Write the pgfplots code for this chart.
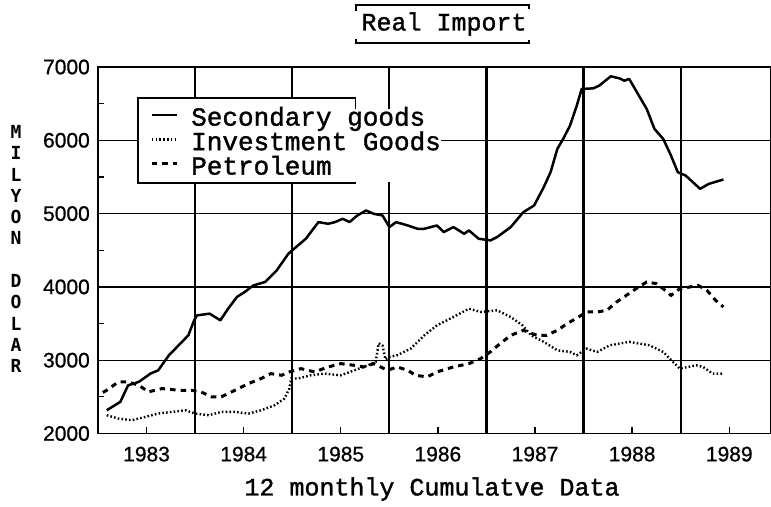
\documentclass[border=0pt]{standalone}
\usepackage{fontspec}
\setmainfont[FakeBold=1.4]{Liberation Mono}
\newfontfamily\tickfont[FakeBold=0.8]{Liberation Sans}
\newfontfamily\ylabfont{DejaVu Sans Mono}
\usepackage{pgfplots}
\pgfplotsset{compat=1.18}
\begin{document}
\begin{tikzpicture}[x=1pt,y=1pt]
\path[use as bounding box] (0,0) rectangle (771,506);
\begin{axis}[
  at={(98pt,72.5pt)}, anchor=south west,
  scale only axis, width=673pt, height=366.5pt,
  xmin=1983, xmax=1989.93, ymin=2000, ymax=7000,
  axis line style={line width=1.6pt},
  tick align=inside, tick pos=left,
  xtick={1983.5,1984.5,1985.5,1986.5,1987.5,1988.5,1989.5},
  xticklabels={1983,1984,1985,1986,1987,1988,1989},
  ytick={2000,3000,4000,5000,6000,7000},
  minor ytick={2500,3500,4500,5500,6500},
  major tick length=6pt, minor tick length=6pt,
  every tick/.style={black, line width=1.3pt},
  ymajorgrids, major grid style={black, line width=1.2pt},
  extra x ticks={1984,1985,1986,1987,1988,1989},
  extra x tick labels={},
  extra x tick style={grid=major, major grid style={black, line width=2.2pt}, major tick length=0pt},
  /pgf/number format/assume math mode=true,
  /pgf/number format/1000 sep={},
  yticklabel style={font=\tickfont\fontsize{21}{21}\selectfont, inner sep=0pt, xshift=-8pt},
  xticklabel style={font=\tickfont\fontsize{21}{21}\selectfont, inner sep=0pt, yshift=-13pt},
  legend style={at={(0.0773,0.887)}, anchor=north west, fill=white, draw=none, inner sep=0pt,
    font=\fontsize{26}{26}\selectfont, column sep=13pt, row sep=0pt,
    nodes={inner sep=0pt, text height=17pt, text depth=7.5pt}},
  legend cell align=left,
  legend image code/.code={\draw[#1] (0pt,6pt) -- (25pt,6pt);},
]
\addplot[black, line width=2.5pt, line join=round] coordinates {
(1983.09,2317) (1983.23,2432) (1983.31,2658) (1983.42,2704) (1983.54,2817) (1983.62,2862)
(1983.73,3067) (1983.83,3203) (1983.93,3339) (1983.99,3544) (1984.02,3612) (1984.15,3635)
(1984.26,3544) (1984.34,3703) (1984.43,3862) (1984.51,3930) (1984.60,4020) (1984.72,4067)
(1984.84,4225) (1984.96,4452) (1985.04,4544) (1985.14,4657) (1985.27,4884) (1985.37,4861)
(1985.44,4884) (1985.52,4929) (1985.59,4884) (1985.67,4974) (1985.76,5042) (1985.84,4997)
(1985.93,4974) (1986.00,4816) (1986.07,4884) (1986.19,4838) (1986.29,4793) (1986.36,4793)
(1986.49,4838) (1986.56,4748) (1986.66,4816) (1986.77,4725) (1986.82,4770) (1986.92,4657)
(1987.04,4634) (1987.11,4680) (1987.25,4816) (1987.38,5020) (1987.49,5110) (1987.59,5361)
(1987.66,5565) (1987.73,5883) (1987.79,6019) (1987.86,6200) (1987.93,6473) (1987.98,6700)
(1988.10,6709) (1988.16,6745) (1988.28,6873) (1988.37,6845) (1988.42,6813) (1988.47,6837)
(1988.54,6677) (1988.65,6428) (1988.73,6155) (1988.82,6019) (1988.90,5792) (1988.97,5565)
(1989.05,5520) (1989.20,5338) (1989.29,5406) (1989.44,5465)
};
\addlegendentry{Secondary goods}
\addplot[black, line width=2.4pt, dash pattern=on 1.6pt off 2.2pt] coordinates {
(1983.09,2249) (1983.21,2204) (1983.35,2181) (1983.49,2227) (1983.62,2272) (1983.76,2295)
(1983.90,2317) (1984.00,2272) (1984.14,2249) (1984.27,2295) (1984.41,2295) (1984.55,2272)
(1984.68,2317) (1984.82,2386) (1984.92,2477) (1984.97,2613) (1984.99,2750) (1985.06,2750)
(1985.19,2794) (1985.33,2817) (1985.50,2794) (1985.64,2862) (1985.78,2930) (1985.86,2980)
(1985.89,3230) (1985.93,3200) (1985.96,3010) (1986.00,3045) (1986.08,3067) (1986.22,3158)
(1986.36,3339) (1986.49,3476) (1986.66,3590) (1986.82,3703) (1986.94,3658) (1987.11,3680)
(1987.25,3590) (1987.37,3476) (1987.46,3339) (1987.59,3250) (1987.73,3135) (1987.86,3113)
(1987.93,3067) (1988.03,3158) (1988.14,3113) (1988.27,3203) (1988.47,3250) (1988.68,3203)
(1988.82,3113) (1988.92,2977) (1988.99,2885) (1989.16,2930) (1989.23,2908) (1989.33,2817)
(1989.44,2817)
};
\addlegendentry{Investment Goods}
\addplot[black, line width=3pt, dash pattern=on 5.5pt off 5pt] coordinates {
(1983.05,2560) (1983.09,2590) (1983.21,2704) (1983.31,2704) (1983.42,2658) (1983.52,2568)
(1983.66,2613) (1983.83,2590) (1983.96,2590) (1984.06,2568) (1984.17,2500) (1984.27,2500)
(1984.41,2590) (1984.55,2681) (1984.68,2750) (1984.78,2817) (1984.89,2794) (1984.97,2840)
(1985.09,2885) (1985.23,2840) (1985.37,2908) (1985.50,2953) (1985.64,2930) (1985.74,2908)
(1985.84,2953) (1985.98,2862) (1986.08,2908) (1986.19,2862) (1986.27,2794) (1986.39,2772)
(1986.49,2840) (1986.66,2908) (1986.82,2953) (1986.94,3022) (1987.04,3113) (1987.14,3226)
(1987.25,3339) (1987.38,3408) (1987.52,3339) (1987.62,3339) (1987.73,3408) (1987.83,3499)
(1987.95,3590) (1988.03,3658) (1988.14,3658) (1988.24,3680) (1988.34,3794) (1988.44,3884)
(1988.54,3975) (1988.65,4067) (1988.75,4044) (1988.82,3975) (1988.90,3884) (1988.99,3975)
(1989.09,3998) (1989.18,4020) (1989.27,3953) (1989.36,3816) (1989.44,3726)
};
\addlegendentry{Petroleum}
\draw[black, line width=1.4pt, fill=white] (axis cs:1983.41,6577) rectangle (axis cs:1985.65,5417);
\end{axis}
% title
\node[font=\fontsize{25}{25}\selectfont, inner sep=0pt] at (444,482) {Real Import};
\draw[line width=1.3pt] (356,495) -- (356,501) -- (529,501) -- (529,497);
\draw[line width=1.3pt] (356,467) -- (356,463) -- (529,463) -- (529,466);
% x label
\node[font=\fontsize{25}{25}\selectfont, inner sep=0pt] at (432,17) {12 monthly Cumulatve Data};
% y label
\node[font=\ylabfont\bfseries\fontsize{18}{21.3}\selectfont, align=center, inner sep=0pt] at (16,257)
  {M\\I\\L\\Y\\O\\N\\~\\D\\O\\L\\A\\R};
\end{tikzpicture}
\end{document}
